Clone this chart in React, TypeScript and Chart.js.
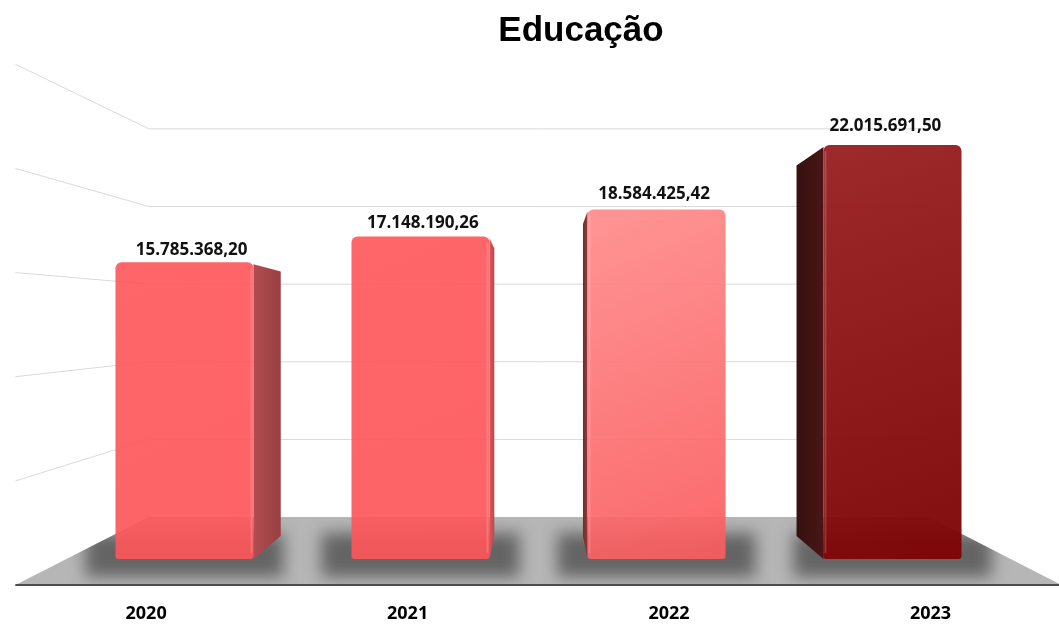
import React, { useEffect, useRef } from "react";
import { Chart, registerables } from "chart.js";

Chart.register(...registerables);

// ---------- data ----------
const years = ["2020", "2021", "2022", "2023"];
const values = [15785368.2, 17148190.26, 18584425.42, 22015691.5];
const gridValues = [0, 5000000, 10000000, 15000000, 20000000, 25000000];
const chartTitle = "Educação";

// ---------- styles / layout ----------
const W = 1059;
const H = 625;
const AREA = { left: 66.5, right: 1010.5, top: 89, bottom: 559 };
const VP = { x: 540, y: 318 }; // vanishing point of the fake 3D view
const DEPTH = { barBack: 0.905, wall: 0.826, floorFront: 1.108, label: 0.98, tick: 1.108 };
const LABEL_LIFT = { k: 1.058, gap: 9 };
const TITLE_POS = { x: 581, y: 40.5 };
const LABEL_FONT = "'Open Sans', Lato, sans-serif";

const frontTop = ["rgba(255,89,93,0.92)", "rgba(255,89,93,0.92)", "rgba(255,139,139,0.92)", "rgba(153,33,35,0.96)"];
const frontBottom = ["rgba(252,86,90,0.92)", "rgba(252,86,90,0.92)", "rgba(250,92,94,0.92)", "rgba(126,4,5,0.96)"];
const sideNear = ["#b04d50", "#d45a5d", "#8e3b3d", "#4a1616"];
const sideFar = ["#9a3f42", "#b84a4d", "#6e2c2e", "#361010"];

const fmt = new Intl.NumberFormat("pt-BR", { minimumFractionDigits: 2, maximumFractionDigits: 2 });

const proj = (x: number, y: number, k: number): [number, number] => [VP.x + (x - VP.x) * k, VP.y + (y - VP.y) * k];

// linear axis range placing the year labels at the perspective front edge
const catW = (AREA.right - AREA.left) / years.length;
const tickSlope = catW * DEPTH.tick;
const tick0 = VP.x + (AREA.left + catW / 2 - VP.x) * DEPTH.tick;
const tickMin = -(tick0 - AREA.left) / tickSlope;
const tickMax = tickMin + (AREA.right - AREA.left) / tickSlope;

const scenePlugin = {
  id: "scene3d",
  beforeDatasetsDraw(chart: any) {
    const { ctx, chartArea: a, scales } = chart;
    const ys = scales.y;
    const L = a.left;
    const R = a.right;
    const B = ys.getPixelForValue(0);
    ctx.save();
    // walls + gridlines
    ctx.strokeStyle = "#d9d9d9";
    ctx.lineWidth = 1;
    gridValues.forEach((v) => {
      if (v === 0) return;
      const yy = ys.getPixelForValue(v);
      const [bx1, by] = proj(L, yy, DEPTH.wall);
      const [bx2] = proj(R, yy, DEPTH.wall);
      const [fx, fy] = proj(L, yy, DEPTH.floorFront);
      ctx.beginPath();
      ctx.moveTo(fx, fy);
      ctx.lineTo(bx1, by);
      ctx.lineTo(bx2, by);
      ctx.stroke();
    });
    // floor
    const fl = [proj(L, B, DEPTH.wall), proj(R, B, DEPTH.wall), proj(R, B, DEPTH.floorFront), proj(L, B, DEPTH.floorFront)];
    const floorPath = () => {
      ctx.beginPath();
      ctx.moveTo(fl[0][0], fl[0][1]);
      for (let i = 1; i < fl.length; i++) ctx.lineTo(fl[i][0], fl[i][1]);
      ctx.closePath();
    };
    floorPath();
    ctx.fillStyle = "#b6b6b6";
    ctx.fill();
    // shadows on the floor
    const meta = chart.getDatasetMeta(0);
    ctx.save();
    floorPath();
    ctx.clip();
    ctx.filter = "blur(8px)";
    ctx.fillStyle = "rgba(50,50,50,0.62)";
    meta.data.forEach((el: any) => {
      const p = el.getProps(["x", "y", "base", "width"], true);
      ctx.fillRect(p.x - p.width / 2 - 30, p.base - 26, p.width + 60, 44);
    });
    ctx.restore();
    // floor front edge
    ctx.strokeStyle = "#4d4d4d";
    ctx.lineWidth = 2;
    ctx.beginPath();
    ctx.moveTo(fl[3][0], fl[3][1]);
    ctx.lineTo(fl[2][0], fl[2][1]);
    ctx.stroke();
    // side faces
    meta.data.forEach((el: any, i: number) => {
      const p = el.getProps(["x", "y", "base", "width"], true);
      const edge = p.x < VP.x ? p.x + p.width / 2 : p.x - p.width / 2;
      const t2 = proj(edge, p.y, DEPTH.barBack);
      const b2 = proj(edge, p.base, DEPTH.barBack);
      const g = ctx.createLinearGradient(edge, 0, t2[0], 0);
      g.addColorStop(0, sideNear[i]);
      g.addColorStop(1, sideFar[i]);
      ctx.fillStyle = g;
      ctx.beginPath();
      ctx.moveTo(edge, p.y + 2);
      ctx.lineTo(t2[0], t2[1] + 4);
      ctx.lineTo(b2[0], b2[1]);
      ctx.lineTo(edge, p.base);
      ctx.closePath();
      ctx.fill();
    });
    ctx.restore();
  },
  afterDatasetsDraw(chart: any) {
    const { ctx } = chart;
    const meta = chart.getDatasetMeta(0);
    ctx.save();
    // bevel highlight on the edge next to the side face
    meta.data.forEach((el: any) => {
      const p = el.getProps(["x", "y", "base", "width"], true);
      const edge = p.x < VP.x ? p.x + p.width / 2 - 3 : p.x - p.width / 2 + 1;
      ctx.fillStyle = "rgba(255,255,255,0.16)";
      ctx.fillRect(edge, p.y + 6, 2, p.base - p.y - 12);
    });
    // value labels
    ctx.fillStyle = "#111";
    ctx.font = `bold 17px ${LABEL_FONT}`;
    ctx.textAlign = "center";
    ctx.textBaseline = "middle";
    meta.data.forEach((el: any, i: number) => {
      const p = el.getProps(["x", "y"], true);
      const lx = VP.x + (p.x - VP.x) * DEPTH.label;
      const ly = VP.y + (p.y - VP.y) * LABEL_LIFT.k - LABEL_LIFT.gap;
      ctx.fillText(fmt.format(values[i]), lx, ly);
    });
    ctx.restore();
  },
  afterDraw(chart: any) {
    const { ctx } = chart;
    ctx.save();
    ctx.fillStyle = "#000";
    ctx.font = "bold 35px 'Liberation Sans', Arial, sans-serif";
    ctx.textAlign = "center";
    ctx.textBaseline = "alphabetic";
    ctx.fillText(chartTitle, TITLE_POS.x, TITLE_POS.y);
    ctx.restore();
  },
};

export default function App() {
  const ref = useRef<HTMLCanvasElement | null>(null);
  useEffect(() => {
    if (!ref.current) return;
    const chart = new Chart(ref.current, {
      type: "bar",
      data: {
        labels: years,
        datasets: [
          {
            data: values,
            backgroundColor: (c: any) => {
              const i = c.dataIndex ?? 0;
              const ch = c.chart;
              if (!ch.chartArea || c.type !== "data") return frontTop[i];
              const xs = ch.scales.x;
              const ys = ch.scales.y;
              const cx = xs.getPixelForValue(i);
              const top = ys.getPixelForValue(values[i]);
              const bot = ys.getPixelForValue(0);
              const g = ch.ctx.createLinearGradient(cx - 70, top, cx + 70, bot);
              g.addColorStop(0, frontTop[i]);
              g.addColorStop(1, frontBottom[i]);
              return g;
            },
            borderWidth: 0,
            borderRadius: { topLeft: 6, topRight: 6, bottomLeft: 3, bottomRight: 3 },
            borderSkipped: false,
            barPercentage: 0.585,
            categoryPercentage: 1,
          } as any,
        ],
      },
      options: {
        responsive: false,
        maintainAspectRatio: false,
        animation: false,
        devicePixelRatio: 1,
        layout: { padding: { left: AREA.left, right: W - AREA.right, top: AREA.top, bottom: 0 } },
        plugins: {
          legend: { display: false },
          tooltip: { enabled: false },
          title: { display: false },
        },
        scales: {
          x: { type: "category", display: false, offset: true },
          y: { display: false, min: gridValues[0], max: gridValues[gridValues.length - 1] },
          xl: {
            type: "linear",
            axis: "x",
            position: "bottom",
            offset: false,
            min: tickMin,
            max: tickMax,
            bounds: "data",
            grid: { display: false, drawTicks: false, offset: false },
            border: { display: false },
            ticks: {
              padding: 44,
              color: "#000",
              autoSkip: false,
              maxRotation: 0,
              font: { family: LABEL_FONT, size: 18, weight: "bold" },
              callback: (v: any) => years[Math.round(Number(v))] ?? "",
            },
            afterBuildTicks: (s: any) => {
              s.ticks = years.map((_, i) => ({ value: i }));
            },
            afterFit: (s: any) => {
              s.height = H - AREA.bottom;
            },
          } as any,
        },
      },
      plugins: [scenePlugin],
    });
    return () => chart.destroy();
  }, []);
  return (
    <div style={{ width: W, height: H, background: "#fff" }}>
      <style>{"body{margin:0;}"}</style>
      <canvas ref={ref} width={W} height={H} style={{ display: "block", width: W, height: H }} />
    </div>
  );
}
